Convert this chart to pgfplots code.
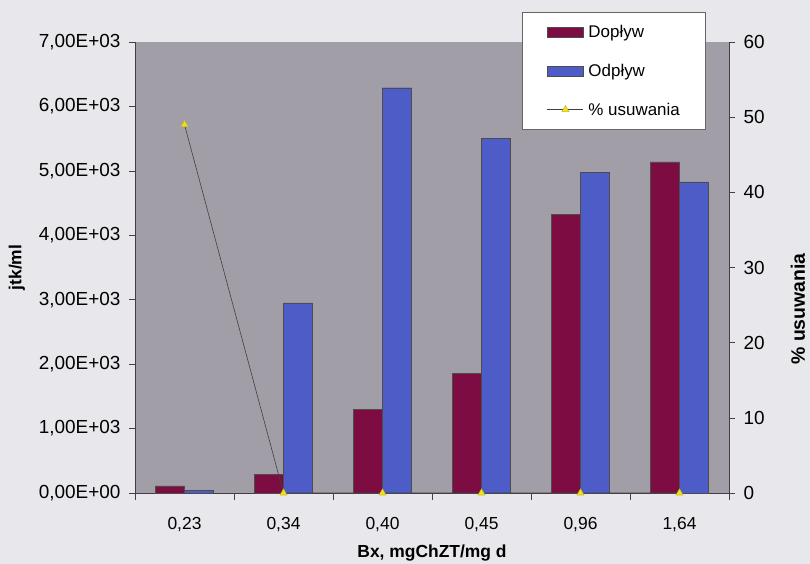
\documentclass[border=0pt]{standalone}
\usepackage{pgfplots}
\pgfplotsset{compat=1.18}
\usepackage{fontspec}
\setmainfont{Liberation Sans}

\definecolor{dop}{HTML}{7C0C42}
\definecolor{odp}{HTML}{4D5CC6}
\definecolor{plotbg}{HTML}{A29EA8}
\definecolor{pagebg}{HTML}{E8E8EC}
\definecolor{marker}{HTML}{F2E21C}
\definecolor{axline}{HTML}{4A3C46}

\pgfplotsset{
  barleg/.style={legend image code/.code={\draw[##1] (0bp,-5bp) rectangle (36bp,5bp);}},
  lineleg/.style={legend image code/.code={\draw[mark repeat=2, mark phase=2, ##1, /tikz/sharp plot] plot coordinates {(0bp,0bp) (18bp,0bp) (36bp,0bp)};}},
  base/.style={
    scale only axis, width=594bp, height=451bp,
    at={(0,0)}, anchor=south west,
    xmin=-0.5, xmax=5.5,
    font=\fontsize{17.5}{20}\selectfont,
    yticklabel style={font=\fontsize{19}{21}\selectfont},
    /pgf/number format/assume math mode=true,
    axis line style={axline, line width=0.8bp},
    tick style={axline, line width=0.6bp},
    tick align=outside,
    major tick length=6bp,
  },
}

\begin{document}
\begin{tikzpicture}
% page background and fixed picture size
\fill[pagebg] (-135bp,-71bp) rectangle (675bp,493bp);
\path[use as bounding box] (-135bp,-71bp) rectangle (675bp,493bp);

% bars: inflow and outflow counts
\begin{axis}[base,
  axis background/.style={fill=plotbg},
  axis y line*=left, axis x line*=bottom,
  ybar=0pt, bar width=29bp,
  ymin=0, ymax=7000,
  ytick={0,1000,...,7000},
  yticklabels={{0,00E+00},{1,00E+03},{2,00E+03},{3,00E+03},{4,00E+03},{5,00E+03},{6,00E+03},{7,00E+03}},
  yticklabel style={xshift=-5bp},
  xtick={0,...,5},
  xticklabels={{0,23},{0,34},{0,40},{0,45},{0,96},{1,64}},
  minor xtick={-0.5,0.5,...,5.5},
  minor tick length=7bp,
  major x tick style={draw=none},
  xticklabel style={yshift=-15bp},
  ylabel={\textbf{jtk/ml}},
  ylabel style={at={(axis description cs:-0.199,0.5)}, anchor=center},
  xlabel={\textbf{Bx, mgChZT/mg d}},
  xlabel style={at={(axis description cs:0.5,-0.133)}, anchor=center},
  legend style={
    at={(0.6515,1.0665)}, anchor=north west,
    draw=black!60, fill=white,
    font=\fontsize{17}{19}\selectfont,
    inner xsep=25bp, inner ysep=13bp,
    row sep=25bp,
    nodes={inner sep=0pt, anchor=west},
  },
  legend cell align=left,
]
\addplot[fill=dop, draw=black!70, line width=0.4bp, barleg]
  coordinates {(0,110) (1,290) (2,1300) (3,1860) (4,4330) (5,5140)};
\addlegendentry{\ Dopływ}
\addplot[fill=odp, draw=black!70, line width=0.4bp, barleg]
  coordinates {(0,40) (1,2950) (2,6290) (3,5500) (4,4980) (5,4830)};
\addlegendentry{\ Odpływ}
\addlegendimage{black!75, line width=0.6bp, mark=triangle*, mark size=4bp,
  mark options={fill=marker, draw=marker!85!black}, lineleg}
\addlegendentry{\ \% usuwania}
\end{axis}

% removal percentage on the right-hand axis
\begin{axis}[base,
  axis y line*=right, axis x line=none,
  ymin=0, ymax=60,
  ytick={0,10,...,60},
  yticklabel style={xshift=5bp},
  ylabel={\fontsize{19.5}{21}\selectfont\textbf{\% usuwania}},
  ylabel style={at={(axis description cs:1.116,0.408)}, anchor=center},
]
\addplot[black!75, line width=0.6bp, mark=triangle*, mark size=4bp,
  mark options={fill=marker, draw=marker!85!black}]
  coordinates {(0,49) (1,0) (2,0) (3,0) (4,0) (5,0)};
\end{axis}
\end{tikzpicture}
\end{document}
